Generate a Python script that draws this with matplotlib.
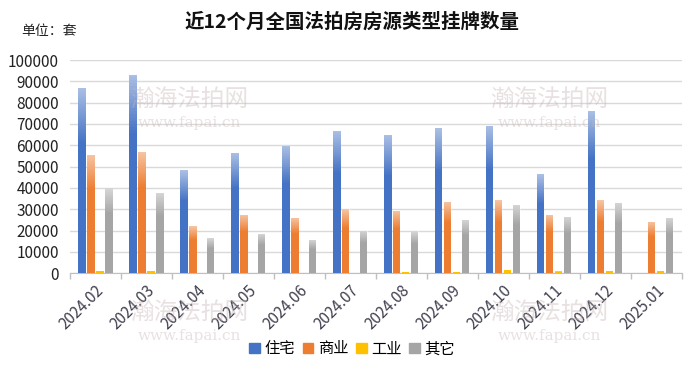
import numpy as np
import matplotlib
matplotlib.use("Agg")
import matplotlib.pyplot as plt
from matplotlib.patches import Patch

plt.rcParams['font.family'] = ['Noto Sans CJK SC', 'DejaVu Sans']

# data
months = ['2024.02', '2024.03', '2024.04', '2024.05', '2024.06', '2024.07',
          '2024.08', '2024.09', '2024.10', '2024.11', '2024.12', '2025.01']
residential = [87000, 93000, 48300, 56300, 59800, 66900, 64800, 68000, 69000, 46300, 76100, 0]
commercial = [55500, 56900, 21900, 27500, 26100, 30000, 29200, 33400, 34200, 27300, 34200, 24000]
industrial = [1000, 1000, 200, 200, 200, 300, 600, 600, 1600, 800, 1200, 1200]
other = [39800, 37700, 16400, 18400, 15600, 19800, 19700, 25000, 31900, 26400, 33000, 26000]

series = [('住宅', residential, '#4472C4'),
          ('商业', commercial, '#ED7D31'),
          ('工业', industrial, '#FFC000'),
          ('其它', other, '#A5A5A5')]

fig = plt.figure(figsize=(7, 3.81), dpi=100)
ax = fig.add_axes([0.1, 0.283, 0.874, 0.5595])

x = np.arange(len(months))
width = 0.14
step = 0.176

# faint white overlay to mimic the gradient fill (light at top)
grad = np.zeros((64, 1, 4))
grad[..., :3] = 1.0
grad[:, 0, 3] = np.clip(0.55 * (1 - np.linspace(0, 1, 64) / 0.3), 0, 0.55)

for i, (name, vals, col) in enumerate(series):
    bars = ax.bar(x + (i - 1.5) * step, vals, width, color=col, zorder=3)
    for b in bars:
        h = b.get_height()
        if h <= 0:
            continue
        im = ax.imshow(grad, extent=[b.get_x(), b.get_x() + b.get_width(), 0, h],
                       aspect='auto', zorder=4, origin='upper')
        im.set_clip_path(b)

ax.set_xlim(-0.5, len(months) - 0.5)
ax.set_ylim(0, 100000)
ax.set_yticks(np.arange(0, 100001, 10000))
ax.tick_params(axis='y', length=0, labelsize=11, colors='#222222', pad=8)
ax.grid(axis='y', color='#D9D9D9', linewidth=1, zorder=0)
ax.set_axisbelow(True)

ax.set_xticks(x)
ax.set_xticklabels(months, rotation=45, ha='right', rotation_mode='anchor',
                   fontsize=11, color='#404050')
ax.tick_params(axis='x', length=0, pad=6)
ax.set_xticks(np.arange(-0.5, len(months)), minor=True)
ax.tick_params(axis='x', which='minor', length=4, color='#BFBFBF', width=1)

for s in ['top', 'right', 'left']:
    ax.spines[s].set_visible(False)
ax.spines['bottom'].set_color('#BFBFBF')

# watermarks
for wx, wy in [(0.27, 0.74), (0.785, 0.74), (0.27, 0.18), (0.785, 0.18)]:
    fig.text(wx, wy, '瀚海法拍网', fontsize=17, color='#C8B4B4',
             alpha=0.4, ha='center', va='center', zorder=1)
    fig.text(wx, wy - 0.062, 'www.fapai.cn', fontsize=11, color='#C8B4B4',
             alpha=0.4, ha='center', va='center', zorder=1, family='DejaVu Serif')

fig.text(0.503, 0.942, '近12个月全国法拍房房源类型挂牌数量', fontsize=14,
         fontweight='bold', ha='center', va='center', color='#111111')
fig.text(0.031, 0.918, '单位：套', fontsize=10, ha='left', va='center', color='#222222')

handles = [Patch(color=c, label=n) for n, _, c in series]
fig.legend(handles=handles, loc='center', bbox_to_anchor=(0.503, 0.084), ncol=4,
           frameon=False, fontsize=11, handlelength=0.7, handleheight=0.7,
           handletextpad=0.3, columnspacing=0.5)

fig.savefig('out.png', dpi=100)
